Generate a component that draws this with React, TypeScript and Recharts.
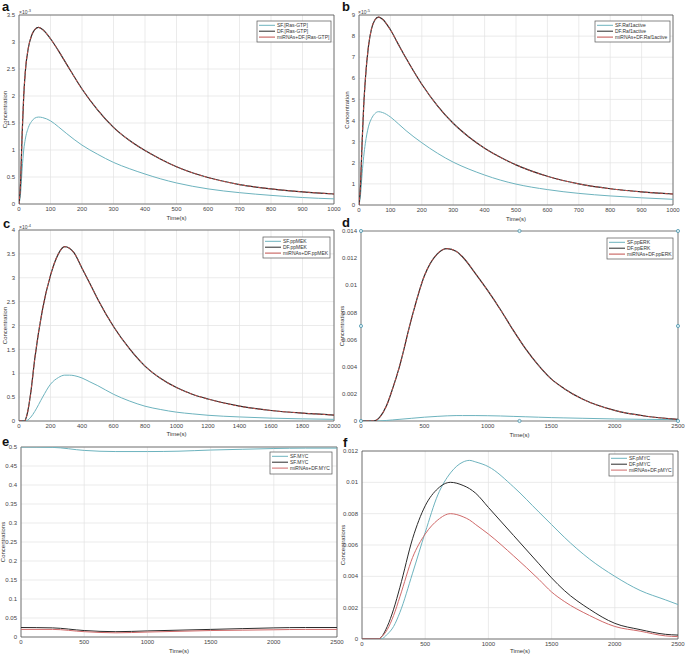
import React from 'react';
import {
  ComposedChart,
  Line,
  XAxis,
  YAxis,
  CartesianGrid,
  ReferenceArea,
  ReferenceDot,
} from 'recharts';

// ---------- data ----------
const tA = [0, 5, 10, 15, 20, 30, 40, 50, 62, 75, 100, 125, 150, 200, 250, 300, 350, 400, 450, 500, 600, 700, 800, 900, 1000];
const sfA = [0, 0.2, 0.65, 1.0, 1.2, 1.42, 1.53, 1.59, 1.61, 1.6, 1.54, 1.43, 1.31, 1.09, 0.92, 0.77, 0.655, 0.555, 0.465, 0.39, 0.28, 0.21, 0.16, 0.12, 0.095];
const dfA = [0, 0.4, 1.3, 2.0, 2.45, 2.9, 3.12, 3.23, 3.27, 3.23, 3.06, 2.84, 2.6, 2.13, 1.74, 1.42, 1.18, 0.99, 0.83, 0.69, 0.49, 0.36, 0.28, 0.225, 0.185];
const miA = [0, 0.4, 1.3, 2.0, 2.45, 2.9, 3.12, 3.23, 3.27, 3.23, 3.06, 2.84, 2.6, 2.13, 1.74, 1.42, 1.18, 0.99, 0.83, 0.69, 0.49, 0.36, 0.28, 0.225, 0.185];

const tB = [0, 5, 10, 15, 20, 30, 40, 50, 62, 75, 100, 125, 150, 200, 250, 300, 350, 400, 450, 500, 600, 700, 800, 900, 1000];
const sfB = [0, 0.5, 1.5, 2.3, 2.9, 3.7, 4.1, 4.32, 4.42, 4.38, 4.17, 3.85, 3.52, 2.95, 2.45, 2.03, 1.7, 1.42, 1.18, 0.99, 0.73, 0.55, 0.43, 0.34, 0.27];
const dfB = [0, 1.0, 3.0, 4.7, 5.9, 7.5, 8.35, 8.75, 8.9, 8.8, 8.3, 7.62, 6.95, 5.72, 4.7, 3.87, 3.22, 2.69, 2.26, 1.9, 1.36, 1.0, 0.77, 0.62, 0.52];
const miB = [0, 1.0, 3.0, 4.7, 5.9, 7.5, 8.35, 8.75, 8.9, 8.8, 8.3, 7.62, 6.95, 5.72, 4.7, 3.87, 3.22, 2.69, 2.26, 1.9, 1.36, 1.0, 0.77, 0.62, 0.52];

const tC = [0, 35, 50, 75, 100, 150, 200, 250, 290, 320, 350, 400, 450, 500, 600, 700, 800, 900, 1000, 1100, 1200, 1400, 1600, 1800, 2000];
const sfC = [0, 0, 0.01, 0.08, 0.2, 0.5, 0.77, 0.91, 0.96, 0.96, 0.95, 0.9, 0.82, 0.74, 0.56, 0.42, 0.31, 0.24, 0.185, 0.15, 0.12, 0.085, 0.06, 0.045, 0.035];
const dfC = [0, 0, 0.12, 0.6, 1.3, 2.35, 3.05, 3.5, 3.65, 3.62, 3.52, 3.2, 2.88, 2.55, 1.98, 1.52, 1.15, 0.89, 0.7, 0.56, 0.46, 0.31, 0.22, 0.165, 0.125];
const miC = [0, 0, 0.12, 0.6, 1.3, 2.35, 3.05, 3.5, 3.65, 3.62, 3.52, 3.2, 2.88, 2.55, 1.98, 1.52, 1.15, 0.89, 0.7, 0.56, 0.46, 0.31, 0.22, 0.165, 0.125];

const tD = [0, 100, 150, 200, 250, 300, 400, 500, 600, 680, 750, 800, 900, 1000, 1100, 1200, 1300, 1400, 1500, 1600, 1750, 2000, 2250, 2500];
const sfD = [0, 0, 0.00001, 0.00004, 0.00008, 0.00012, 0.0002, 0.00028, 0.00034, 0.00038, 0.0004, 0.0004, 0.0004, 0.00039, 0.00037, 0.00034, 0.00031, 0.00028, 0.00025, 0.00023, 0.0002, 0.00015, 0.00012, 0.0001];
const dfD = [0, 0, 0.0003, 0.0011, 0.0024, 0.0039, 0.0076, 0.0107, 0.0123, 0.0127, 0.0125, 0.0121, 0.0109, 0.0096, 0.0082, 0.0067, 0.0053, 0.0041, 0.0031, 0.0024, 0.0016, 0.00078, 0.00035, 0.00012];
const miD = [0, 0, 0.0003, 0.0011, 0.0024, 0.0039, 0.0076, 0.0107, 0.0123, 0.0127, 0.0125, 0.0121, 0.0109, 0.0096, 0.0082, 0.0067, 0.0053, 0.0041, 0.0031, 0.0024, 0.0016, 0.00078, 0.00035, 0.00012];
const handleT = [0, 1250, 2500, 0, 2500, 0, 1250, 2500];
const handleV = [0, 0, 0, 0.007, 0.007, 0.014, 0.014, 0.014];

const tE = [0, 250, 500, 750, 1000, 1250, 1500, 1750, 2000, 2250, 2500];
const sfE = [0.5, 0.499, 0.491, 0.488, 0.488, 0.489, 0.492, 0.494, 0.496, 0.497, 0.497];
const dfE = [0.025, 0.024, 0.017, 0.014, 0.016, 0.018, 0.02, 0.022, 0.024, 0.025, 0.025];
const miE = [0.02, 0.02, 0.014, 0.011, 0.013, 0.015, 0.017, 0.018, 0.019, 0.02, 0.02];

const tF = [0, 130, 150, 200, 250, 300, 400, 500, 600, 700, 800, 850, 900, 1000, 1200, 1400, 1500, 1600, 1800, 2000, 2200, 2400, 2500];
const sfF = [0, 0, 0, 0.0003, 0.0008, 0.0017, 0.0042, 0.0068, 0.0092, 0.0106, 0.0113, 0.0114, 0.0113, 0.011, 0.0097, 0.0081, 0.0073, 0.0065, 0.0051, 0.004, 0.0031, 0.0025, 0.0022];
const dfF = [0, 0, 0.0001, 0.0008, 0.0019, 0.0033, 0.0064, 0.0085, 0.0096, 0.01, 0.0098, 0.0096, 0.0093, 0.0084, 0.0066, 0.0048, 0.0039, 0.0031, 0.0019, 0.001, 0.0006, 0.0003, 0.00025];
const miF = [0, 0, 0.0001, 0.0006, 0.0015, 0.0027, 0.0052, 0.0067, 0.0076, 0.008, 0.0078, 0.0076, 0.0073, 0.0067, 0.0053, 0.0038, 0.003, 0.0024, 0.0015, 0.0008, 0.0005, 0.0002, 0.00015];

// ---------- ticks ----------
const xTicks1000 = [0, 100, 200, 300, 400, 500, 600, 700, 800, 900, 1000];
const xTicks2000 = [0, 200, 400, 600, 800, 1000, 1200, 1400, 1600, 1800, 2000];
const xTicks2500 = [0, 500, 1000, 1500, 2000, 2500];
const yTicksA = [0, 0.5, 1, 1.5, 2, 2.5, 3, 3.5];
const yTicksB = [0, 1, 2, 3, 4, 5, 6, 7, 8, 9];
const yTicksC = [0, 0.5, 1, 1.5, 2, 2.5, 3, 3.5, 4];
const yTicksD = [0, 0.002, 0.004, 0.006, 0.008, 0.01, 0.012, 0.014];
const yTicksE = [0, 0.05, 0.1, 0.15, 0.2, 0.25, 0.3, 0.35, 0.4, 0.45, 0.5];
const yTicksF = [0, 0.002, 0.004, 0.006, 0.008, 0.01, 0.012];

// ---------- legend labels ----------
const namesA = ['SF.[Ras-GTP]', 'DF.[Ras-GTP]', 'miRNAs+DF.[Ras-GTP]'];
const namesB = ['SF.Raf1active', 'DF.Raf1active', 'miRNAs+DF.Raf1active'];
const namesC = ['SF.ppMEK', 'DF.ppMEK', 'miRNAs+DF.ppMEK'];
const namesD = ['SF.ppERK', 'DF.ppERK', 'miRNAs+DF.ppERK'];
const namesE = ['SF.MYC', 'SF.MYC', 'miRNAs+DF.MYC'];
const namesF = ['SF.pMYC', 'DF.pMYC', 'miRNAs+DF.pMYC'];

const C_SF = '#6db3be';
const C_DF = '#2b2b2b';
const C_MI = '#c2504c';
const C_MI_F = '#d06a6a';

const rows = (t: number[], sf: number[], df: number[], mi: number[]) =>
  t.map((x, i) => ({ t: x, sf: sf[i], df: df[i], mi: mi[i] }));

const fmt = (v: number) => String(+Number(v).toPrecision(6));

type PanelProps = {
  x0: number; x1: number; y0: number; y1: number;
  data: any[];
  xDomain: [number, number]; xTicks: number[];
  yDomain: [number, number]; yTicks: number[];
  yLabel: string; yLabelOffset: number; xLabelOffset: number;
  grid: boolean; miColor: string; overlay: boolean;
  handles?: { t: number; v: number }[];
  names: string[];
};

const YW = 30;

function Panel(p: PanelProps) {
  const w = p.x1 - p.x0 + YW + 10;
  const h = p.y1 - p.y0 + 10 + 25;
  const tickStyle = { fontSize: 6, fill: '#454545' };
  return (
    <div style={{ position: 'absolute', left: p.x0 - YW, top: p.y0 - 10 }}>
      <ComposedChart width={w} height={h} data={p.data} margin={{ top: 10, right: 10, bottom: 0, left: 0 }}>
        {p.grid && <CartesianGrid stroke="#e3e3e3" strokeWidth={0.7} />}
        <XAxis
          dataKey="t" type="number" domain={p.xDomain} ticks={p.xTicks} allowDataOverflow interval={0}
          tickLine={false} axisLine={false} tickSize={2} tickMargin={1} height={25}
          tick={tickStyle} tickFormatter={fmt}
          label={{ value: 'Time(s)', position: 'insideBottom', offset: p.xLabelOffset, fontSize: 6, fill: '#333' }}
        />
        <YAxis
          type="number" domain={p.yDomain} ticks={p.yTicks} allowDataOverflow interval={0}
          tickLine={false} axisLine={false} tickSize={2} tickMargin={2} width={YW}
          tick={tickStyle} tickFormatter={fmt}
          label={{ value: p.yLabel, angle: -90, position: 'insideLeft', offset: p.yLabelOffset, fontSize: 6, fill: '#333', style: { textAnchor: 'middle' } }}
        />
        {!p.grid && (
          <XAxis xAxisId="top" orientation="top" type="number" domain={p.xDomain} ticks={p.xTicks} dataKey="t"
            mirror tick={false} tickSize={3} axisLine={false} height={0} stroke="#555" />
        )}
        {!p.grid && (
          <YAxis yAxisId="right" orientation="right" type="number" domain={p.yDomain} ticks={p.yTicks}
            mirror tick={false} tickSize={3} axisLine={false} width={0} stroke="#555" />
        )}
        <ReferenceArea x1={p.xDomain[0]} x2={p.xDomain[1]} y1={p.yDomain[0]} y2={p.yDomain[1]}
          fill="#ffffff" fillOpacity={0} stroke="#555" strokeWidth={0.8} />
        <Line dataKey="sf" type="monotone" stroke={C_SF} strokeWidth={1} dot={false} isAnimationActive={false} />
        <Line dataKey="df" type="monotone" stroke={C_DF} strokeWidth={p.overlay ? 1.2 : 1} dot={false} isAnimationActive={false} />
        <Line dataKey="mi" type="monotone" stroke={p.miColor} strokeWidth={1} strokeDasharray={p.overlay ? '3 2' : undefined} dot={false} isAnimationActive={false} />
        {(p.handles || []).map((hd, i) => (
          <ReferenceDot key={i} x={hd.t} y={hd.v} r={1.6} fill="#d8eef4" stroke="#4f97ad" strokeWidth={0.8} />
        ))}
      </ComposedChart>
    </div>
  );
}

function LegendBox({ x, y, w, h, names, colors }: { x: number; y: number; w: number; h: number; names: string[]; colors: string[] }) {
  return (
    <g>
      <rect x={x} y={y} width={w} height={h} fill="#fff" stroke="#555" strokeWidth={0.7} />
      {names.map((n, i) => {
        const cy = y + 4.3 + i * 5.9;
        return (
          <g key={i}>
            <line x1={x + 2} x2={x + 18} y1={cy} y2={cy} stroke={colors[i]} strokeWidth={1} />
            <text x={x + 20} y={cy + 1.8} fontSize={5} fill="#333">{n}</text>
          </g>
        );
      })}
    </g>
  );
}

function Mult({ x, y, e }: { x: number; y: number; e: string }) {
  return (
    <text x={x} y={y} fontSize={5} fill="#444">
      ×10<tspan dy={-2} fontSize={4}>{e}</tspan>
    </text>
  );
}

export default function App() {
  const handles = handleT.map((t, i) => ({ t, v: handleV[i] }));
  const cols = [C_SF, C_DF, C_MI];
  const colsF = [C_SF, C_DF, C_MI_F];
  return (
    <div style={{ position: 'absolute', left: 0, top: 0, width: 685, height: 657, background: '#fff', fontFamily: '"Liberation Sans", Arial, sans-serif', overflow: 'hidden' }}>
      <Panel x0={19} x1={334} y0={15} y1={204} data={rows(tA, sfA, dfA, miA)} xDomain={[0, 1000]} xTicks={xTicks1000}
        yDomain={[0, 3.5]} yTicks={yTicksA} yLabel="Concentration" yLabelOffset={16} xLabelOffset={9}
        grid miColor={C_MI} overlay names={namesA} />
      <Panel x0={359} x1={673} y0={15} y1={205} data={rows(tB, sfB, dfB, miB)} xDomain={[0, 1000]} xTicks={xTicks1000}
        yDomain={[0, 9]} yTicks={yTicksB} yLabel="Concentration" yLabelOffset={18} xLabelOffset={9}
        grid miColor={C_MI} overlay names={namesB} />
      <Panel x0={19} x1={334} y0={230} y1={421} data={rows(tC, sfC, dfC, miC)} xDomain={[0, 2000]} xTicks={xTicks2000}
        yDomain={[0, 4]} yTicks={yTicksC} yLabel="Concentration" yLabelOffset={16} xLabelOffset={10}
        grid miColor={C_MI} overlay names={namesC} />
      <Panel x0={361} x1={678} y0={231} y1={421} data={rows(tD, sfD, dfD, miD)} xDomain={[0, 2500]} xTicks={xTicks2500}
        yDomain={[0, 0.014]} yTicks={yTicksD} yLabel="Concentrations" yLabelOffset={11} xLabelOffset={9}
        grid={false} miColor={C_MI} overlay handles={handles} names={namesD} />
      <Panel x0={21} x1={337} y0={447} y1={637} data={rows(tE, sfE, dfE, miE)} xDomain={[0, 2500]} xTicks={xTicks2500}
        yDomain={[0, 0.5]} yTicks={yTicksE} yLabel="Concentrations" yLabelOffset={12} xLabelOffset={9}
        grid miColor={C_MI_F} overlay={false} names={namesE} />
      <Panel x0={362} x1={678} y0={451} y1={639} data={rows(tF, sfF, dfF, miF)} xDomain={[0, 2500]} xTicks={xTicks2500}
        yDomain={[0, 0.012]} yTicks={yTicksF} yLabel="Concentrations" yLabelOffset={11} xLabelOffset={11}
        grid miColor={C_MI_F} overlay={false} names={namesF} />

      <svg width={685} height={657} style={{ position: 'absolute', left: 0, top: 0, pointerEvents: 'none' }}>
        <g fontWeight="bold" fontSize={13} fill="#111">
          <text x={2} y={10.5}>a</text>
          <text x={342} y={10.5}>b</text>
          <text x={3} y={227.5}>c</text>
          <text x={342} y={226.5}>d</text>
          <text x={2} y={446}>e</text>
          <text x={343} y={446.5}>f</text>
        </g>
        <Mult x={19} y={13.5} e="-3" />
        <Mult x={358} y={13.5} e="-5" />
        <Mult x={19} y={228.5} e="-4" />
        <LegendBox x={257} y={21} w={74} h={21} names={namesA} colors={cols} />
        <LegendBox x={595} y={21} w={75} h={21} names={namesB} colors={cols} />
        <LegendBox x={263} y={237} w={67} h={21} names={namesC} colors={cols} />
        <LegendBox x={607} y={238} w={66} h={21} names={namesD} colors={cols} />
        <LegendBox x={270} y={452} w={62} h={22} names={namesE} colors={colsF} />
        <LegendBox x={609} y={454} w={64} h={22} names={namesF} colors={colsF} />
      </svg>
    </div>
  );
}
